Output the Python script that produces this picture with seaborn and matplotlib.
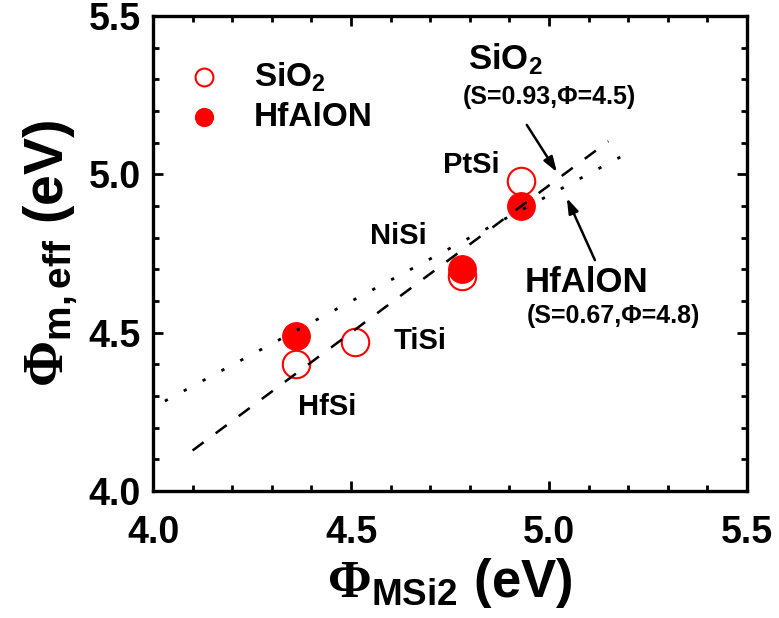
import numpy as np
import pandas as pd
import matplotlib
matplotlib.use("Agg")
import matplotlib.pyplot as plt
import seaborn as sns
from matplotlib.ticker import MultipleLocator, FormatStrFormatter

# --- data -------------------------------------------------------------
silicides = ["HfSi", "TiSi", "NiSi", "PtSi"]
phi_msi2 = [4.36, 4.51, 4.78, 4.93]          # silicide work function (eV)
phi_sio2 = [4.40, 4.47, 4.68, 4.98]          # effective WF on SiO2
hfalon_silicides = ["HfSi", "NiSi", "PtSi"]
phi_msi2_hfalon = [4.36, 4.78, 4.93]
phi_hfalon = [4.49, 4.70, 4.90]              # effective WF on HfAlON

# pinning-model lines: phi_eff = phi_cnl + S * (phi_m - phi_cnl)
sio2_S, sio2_cnl = 0.93, 4.5
hfalon_S, hfalon_cnl = 0.67, 4.8
sio2_fit_x = [4.10, 5.15]
hfalon_fit_x = [4.03, 5.18]

label_pos = {"PtSi": (4.803, 5.029), "NiSi": (4.619, 4.805),
             "TiSi": (4.674, 4.474), "HfSi": (4.439, 4.265)}

# --- style ------------------------------------------------------------
sns.set_style("ticks")
plt.rcParams["font.family"] = ["Liberation Sans", "DejaVu Sans"]
plt.rcParams["font.weight"] = "bold"
plt.rcParams["text.color"] = "black"
plt.rcParams["axes.labelcolor"] = "black"
plt.rcParams["xtick.color"] = "black"
plt.rcParams["ytick.color"] = "black"
plt.rcParams["xtick.labelcolor"] = "black"
plt.rcParams["ytick.labelcolor"] = "black"
plt.rcParams["mathtext.fontset"] = "custom"
plt.rcParams["mathtext.rm"] = "Liberation Serif"
plt.rcParams["mathtext.bf"] = "Liberation Sans:bold"
plt.rcParams["mathtext.it"] = "Liberation Sans:italic"

fig = plt.figure(figsize=(7.79, 6.18), dpi=100)
ax = fig.add_axes([153 / 779, 1 - 491 / 618, (747 - 153) / 779, (491 - 16) / 618])

red = "#ff0000"
df_sio2 = pd.DataFrame({"x": phi_msi2, "y": phi_sio2})
df_hf = pd.DataFrame({"x": phi_msi2_hfalon, "y": phi_hfalon})

sns.scatterplot(data=df_sio2, x="x", y="y", ax=ax, s=390, marker="o",
                facecolor="white", edgecolor=red, linewidth=1.5,
                label=r"SiO$_{\mathbf{2}}$", zorder=2)
sns.scatterplot(data=df_hf, x="x", y="y", ax=ax, s=390, marker="o",
                color=red, edgecolor=red, linewidth=1.0,
                label="HfAlON", zorder=3)

sx = np.array(sio2_fit_x)
hx = np.array(hfalon_fit_x)
fit = pd.DataFrame({
    "sx": sx, "sy": sio2_cnl + sio2_S * (sx - sio2_cnl),
    "hx": hx, "hy": hfalon_cnl + hfalon_S * (hx - hfalon_cnl),
})
sns.lineplot(data=fit, x="sx", y="sy", ax=ax, color="black", lw=1.8,
             linestyle=(0, (5.5, 6)), zorder=4)
sns.lineplot(data=fit, x="hx", y="hy", ax=ax, color="black", lw=2.0,
             linestyle=(0, (1.2, 6.5)), zorder=4)

for name in silicides:
    tx, ty = label_pos[name]
    ax.text(tx, ty, name, fontsize=21, fontweight="bold", ha="center", va="center")

# model annotations
ax.text(4.795, 5.333, r"SiO$_{\mathbf{2}}$", fontsize=25, fontweight="bold",
        ha="left", va="baseline")
ax.text(4.783, 5.244, "(S=0.93,Φ=4.5)", fontsize=18, fontweight="bold",
        ha="left", va="center")
ax.text(4.939, 4.657, "HfAlON", fontsize=25, fontweight="bold",
        ha="left", va="center")
ax.text(4.944, 4.553, "(S=0.67,Φ=4.8)", fontsize=18, fontweight="bold",
        ha="left", va="center")
arrow = dict(arrowstyle="-|>,head_length=0.9,head_width=0.3", lw=1.8,
             color="black", shrinkA=0, shrinkB=0)
ax.annotate("", xy=(5.020, 5.007), xytext=(4.944, 5.156), arrowprops=arrow)
ax.annotate("", xy=(5.045, 4.925), xytext=(5.116, 4.729), arrowprops=arrow)

# --- axes -------------------------------------------------------------
ax.set_xlim(4.0, 5.5)
ax.set_ylim(4.0, 5.5)
ax.xaxis.set_major_locator(MultipleLocator(0.5))
ax.yaxis.set_major_locator(MultipleLocator(0.5))
ax.xaxis.set_minor_locator(MultipleLocator(0.1))
ax.yaxis.set_minor_locator(MultipleLocator(0.1))
ax.xaxis.set_major_formatter(FormatStrFormatter("%.1f"))
ax.yaxis.set_major_formatter(FormatStrFormatter("%.1f"))
ax.tick_params(which="both", direction="in", top=True, right=True, width=2.0,
               color="black", labelcolor="black")
ax.tick_params(which="major", length=7)
ax.tick_params(which="minor", length=4.5)
ax.tick_params(axis="x", which="major", pad=17, labelsize=27)
ax.tick_params(axis="y", which="major", pad=9, labelsize=27)
for lab in ax.get_xticklabels() + ax.get_yticklabels():
    lab.set_fontweight("bold")
for sp in ax.spines.values():
    sp.set_linewidth(2.4)
    sp.set_color("black")

ax.set_xlabel(r"$\Phi_{\mathbf{MSi2}}$ (eV)", fontsize=38, fontweight="bold",
              labelpad=4, color="black")
ax.set_ylabel(r"$\Phi_{\mathbf{m,eff}}$ (eV)", fontsize=40, fontweight="bold",
              labelpad=6, color="black")

leg = ax.legend(loc="upper left", bbox_to_anchor=(0.03, 0.935), frameon=False,
                fontsize=24, markerscale=0.65, handletextpad=0.9,
                labelspacing=0.25, handlelength=1.2, borderaxespad=0)
for t in leg.get_texts():
    t.set_fontweight("bold")
    t.set_color("black")

fig.savefig("out.png", dpi=100)
